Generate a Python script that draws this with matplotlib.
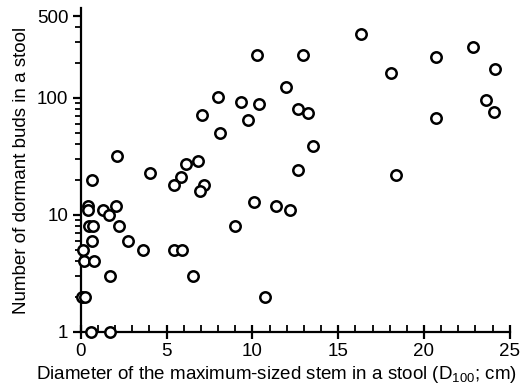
import matplotlib
matplotlib.use("Agg")
import matplotlib.pyplot as plt
from matplotlib.ticker import LogLocator, FixedLocator, NullFormatter, MultipleLocator

plt.rcParams['font.family'] = ['Liberation Sans', 'DejaVu Sans']
plt.rcParams['mathtext.fontset'] = 'custom'
plt.rcParams['mathtext.rm'] = 'Liberation Sans'
plt.rcParams['mathtext.it'] = 'Liberation Sans'

diameter = [7.98, 7.05, 8.1, 2.1, 6.8, 6.1, 4.05, 5.84, 0.66, 5.45, 7.15, 6.93,
            0.41, 2.02, 0.43, 1.32, 1.62, 0.49, 0.7, 2.2, 0.66, 2.75, 0.12, 3.6,
            5.45, 5.92, 0.21, 0.78, 1.71, 6.54, 0.04, 0.25, 0.58, 1.71,
            16.31, 10.28, 12.95, 11.93, 9.36, 10.38, 12.68, 13.22, 9.74, 13.51,
            12.66, 10.07, 11.37, 12.19, 8.98, 10.71,
            22.86, 20.68, 24.14, 18.09, 23.6, 24.07, 20.68, 18.36]
buds = [101, 71, 50, 32, 29, 27, 23, 21, 20, 18, 18, 16,
        12, 12, 11, 11, 10, 8, 8, 8, 6, 6, 5, 5,
        5, 5, 4, 4, 3, 3, 2, 2, 1, 1,
        350, 234, 234, 123, 92, 89, 81, 74, 65, 39,
        24, 13, 12, 11, 8, 2,
        274, 225, 175, 164, 96, 76, 67, 22]

x_ticks = [0, 5, 10, 15, 20, 25]
y_ticks = [1, 10, 100, 500]
y_ticklabels = ['1', '10', '100', '500']

fig = plt.figure(figsize=(5.25, 3.86), dpi=100)
ax = fig.add_axes([0.154, 0.140, 0.817, 0.838])

ax.plot(diameter, buds, linestyle='none', marker='o', markersize=7.5,
        markerfacecolor='white', markeredgecolor='black', markeredgewidth=1.8,
        clip_on=False, zorder=3)

ax.set_yscale('log')
ax.set_xlim(0, 25)
ax.set_ylim(1, 580)

ax.xaxis.set_major_locator(FixedLocator(x_ticks))
ax.xaxis.set_minor_locator(MultipleLocator(1))
ax.yaxis.set_major_locator(FixedLocator(y_ticks))
ax.set_yticklabels(y_ticklabels)
ax.yaxis.set_minor_locator(LogLocator(base=10, subs=range(2, 10)))
ax.yaxis.set_minor_formatter(NullFormatter())

for s in ['top', 'right']:
    ax.spines[s].set_visible(False)
for s in ['left', 'bottom']:
    ax.spines[s].set_linewidth(1.6)

ax.tick_params(axis='x', which='major', direction='inout', length=10, width=1.6,
               labelsize=13.5, pad=3)
ax.tick_params(axis='x', which='minor', direction='in', length=5, width=1.3)
ax.tick_params(axis='y', which='major', direction='out', length=6, width=1.6,
               labelsize=13.5, pad=3)
ax.tick_params(axis='y', which='minor', direction='out', length=4, width=1.3)

ax.set_xlabel('Diameter of the maximum-sized stem in a stool (D$_{100}$; cm)',
              fontsize=13.5)
ax.xaxis.set_label_coords(0.457, -0.098)
ax.set_ylabel('Number of dormant buds in a stool', fontsize=13.5, labelpad=5)

fig.savefig('out.png', dpi=100)
